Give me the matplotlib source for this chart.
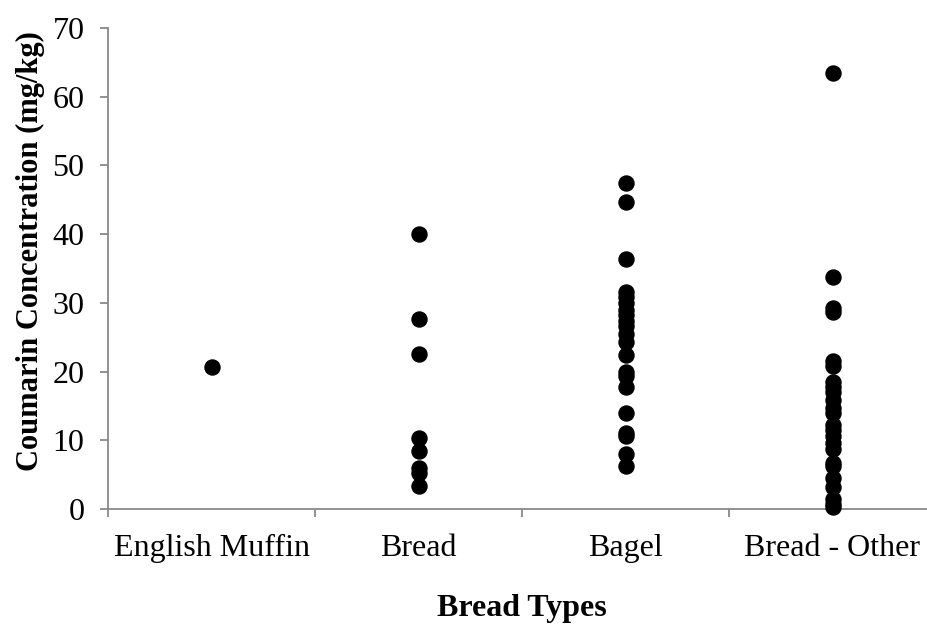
import matplotlib.pyplot as plt
import numpy as np

# Coumarin concentration (mg/kg) by bread type
categories = ["English Muffin", "Bread", "Bagel", "Bread - Other"]

english_muffin = [20.7]
bread = [40.0, 27.6, 22.6, 10.3, 8.5, 6.0, 5.2, 3.3]
bagel = [47.4, 44.7, 36.4, 31.6, 30.9, 30.0, 29.0, 28.2, 27.3, 26.6, 25.5,
         24.3, 22.4, 20.0, 19.3, 17.8, 14.0, 11.1, 10.6, 8.0, 6.2]
bread_other = [63.4, 33.8, 29.2, 28.6, 21.5, 20.8, 18.5, 17.8, 17.0, 15.8,
               14.7, 13.9, 12.2, 11.5, 10.6, 9.6, 8.7, 6.7, 6.2, 4.5, 3.2,
               1.5, 0.7, 0.3]

series = [english_muffin, bread, bagel, bread_other]

plt.rcParams['font.family'] = ['Liberation Serif', 'DejaVu Serif']

fig = plt.figure(figsize=(9.27, 6.26), dpi=100)
ax = fig.add_axes([108 / 927, 117 / 626, 828 / 927, 481 / 626])

for i, vals in enumerate(series):
    ax.scatter(np.full(len(vals), i + 0.5), vals, s=117, color='black',
               zorder=3, clip_on=False)

axis_gray = '#898989'
ax.set_xlim(0, len(categories))
ax.set_ylim(0, 70)
ax.set_yticks(range(0, 71, 10))
ax.set_xticks(range(0, len(categories) + 1))
ax.set_xticklabels([])
ax.set_xticks(np.arange(len(categories)) + 0.5, minor=True)
ax.set_xticklabels(categories, minor=True)

for side in ['top', 'right']:
    ax.spines[side].set_visible(False)
for side in ['left', 'bottom']:
    ax.spines[side].set_color(axis_gray)
    ax.spines[side].set_linewidth(1.3)

ax.tick_params(axis='both', which='major', direction='out', length=6,
               width=1.3, color=axis_gray, labelsize=23)
ax.tick_params(axis='y', pad=11)
ax.tick_params(axis='x', which='minor', length=0, pad=18, labelsize=23)

ax.set_xlabel("Bread Types", fontsize=23, fontweight='bold', labelpad=22)
ax.set_ylabel("Coumarin Concentration (mg/kg)", fontsize=22,
              fontweight='bold')
ax.yaxis.set_label_coords(-0.076, 0.536)

fig.savefig("out.png", dpi=100)
